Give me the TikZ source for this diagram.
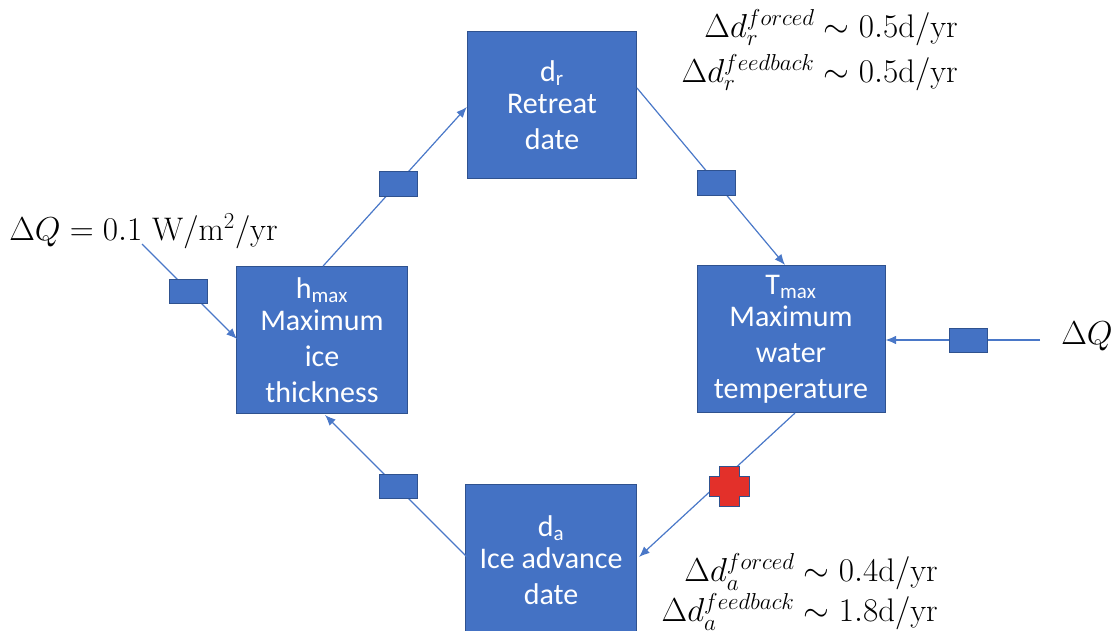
\documentclass[tikz,border=0pt]{standalone}
\usepackage{fontspec}
\newfontfamily\calibri{Carlito}
\usetikzlibrary{arrows.meta,calc}
\definecolor{boxblue}{HTML}{4472C4}
\definecolor{boxedge}{HTML}{2F528F}
\definecolor{lineblue}{HTML}{4A78C8}
\definecolor{crossred}{HTML}{E3302A}
\begin{document}
\begin{tikzpicture}[x=0.75pt,y=-0.75pt,
  bigbox/.style={draw=boxedge,fill=boxblue,line width=0.75pt,text=white,
    font=\calibri\fontsize{22.5}{27}\selectfont,align=center,inner sep=0pt},
  smallbox/.style={draw=boxedge,fill=boxblue,line width=0.75pt,
    minimum width=28.5pt,minimum height=18pt,inner sep=0pt},
  conn/.style={draw=lineblue,line width=0.9pt,-{Latex[length=8pt,width=6.5pt]}},
  mathlbl/.style={font=\fontsize{24.5}{30}\selectfont,inner sep=0pt}]
\useasboundingbox (0,0) rectangle (1113,631);

% main boxes
\node[bigbox,minimum width=127pt,minimum height=110pt] (dr) at (552,105)
  {d\textsubscript{r}\\[-3pt]Retreat\\date};
\node[bigbox,minimum width=128pt,minimum height=110pt] (hm) at (322,340)
  {h\textsubscript{max}\\[-3pt]Maximum\\ice\\thickness};
\node[bigbox,minimum width=141pt,minimum height=110pt] (tm) at (791,339)
  {T\textsubscript{max}\\[-3pt]Maximum\\water\\temperature};
\node[bigbox,minimum width=128pt,minimum height=113pt] (da) at (551,560)
  {d\textsubscript{a}\\[-3pt]Ice advance\\date};

% free ends
\coordinate (qL) at (142,244);
\coordinate (qR) at (1040,340);

% connectors
\draw[conn] (hm.north) ++(1,0) coordinate (hmN) -- (dr.west |- 0,107);
\draw[conn] (637,88) -- (785,265);
\draw[conn] (qL) -- (237,339);
\draw[conn] (qR) -- (tm.east |- qR);
\draw[conn] (795,413) -- (639,557);
\draw[conn] (467,557) -- (325,415);

% small boxes on connectors
\node[smallbox] (s1) at (398,184) {};
\node[smallbox] (s2) at (716,183) {};
\node[smallbox] (s3) at (188,291) {};
\node[smallbox] (s4) at (968,340) {};
\node[smallbox] (s5) at (398,486) {};

% red cross
\coordinate (cx) at (729,486);
\fill[crossred,draw=boxedge,line width=0.6pt]
  ($(cx)+(-10,-20)$) -- ($(cx)+(10,-20)$) -- ($(cx)+(10,-10)$) -- ($(cx)+(20,-10)$)
  -- ($(cx)+(20,10)$) -- ($(cx)+(10,10)$) -- ($(cx)+(10,20)$) -- ($(cx)+(-10,20)$)
  -- ($(cx)+(-10,10)$) -- ($(cx)+(-20,10)$) -- ($(cx)+(-20,-10)$) -- ($(cx)+(-10,-10)$) -- cycle;

% labels
\node[mathlbl,anchor=west] (lq) at (9,231) {$\Delta Q = 0.1\ \mathrm{W/m^2/yr}$};
\node[mathlbl,anchor=west] (rq) at (1061,336) {$\Delta Q$};
\node[mathlbl,anchor=east,align=right] (topr) at (958,50)
  {$\Delta d_r^{forced}\sim 0.5\mathrm{d/yr}$\\[4pt]$\Delta d_r^{feedback}\sim 0.5\mathrm{d/yr}$};
\node[mathlbl,anchor=east,align=right] (botr) at (938,592)
  {$\Delta d_a^{forced}\sim 0.4\mathrm{d/yr}$\\[0pt]$\Delta d_a^{feedback}\sim 1.8\mathrm{d/yr}$};
\end{tikzpicture}
\end{document}
